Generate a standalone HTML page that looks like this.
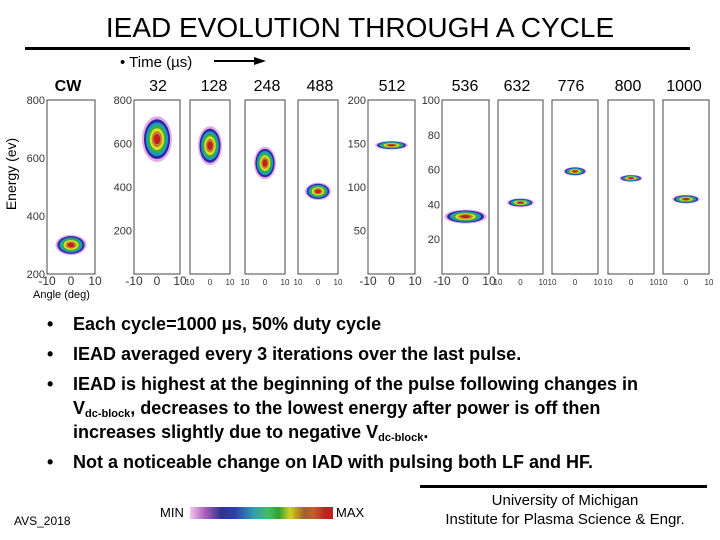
<!DOCTYPE html>
<html><head><meta charset="utf-8">
<style>
body{margin:0;width:720px;height:540px;background:#fff;overflow:hidden;font-family:"Liberation Sans",Arial,sans-serif;}
#wrap{position:relative;width:720px;height:540px;}
.t{position:absolute;white-space:nowrap;}
.b{font-weight:bold;font-size:18px;color:#000;line-height:24px;}
.dot{position:absolute;left:-26px;top:0;}
sub{font-size:11px;line-height:0;vertical-align:-3px;}
</style></head><body>
<div id="wrap">
<div class="t" style="left:0;width:720px;text-align:center;top:12px;font-size:28px;">IEAD EVOLUTION THROUGH A CYCLE</div>
<div class="t" style="left:25px;top:47px;width:665px;height:3px;background:#000;"></div>
<svg id="chart" width="720" height="310" style="position:absolute;left:0;top:0;font-family:'Liberation Sans',Arial,sans-serif;"></svg>
<div class="t b" style="left:73px;top:312px;"><span class="dot">•</span>Each cycle=1000 µs, 50% duty cycle</div>
<div class="t b" style="left:73px;top:342px;"><span class="dot">•</span>IEAD averaged every 3 iterations over the last pulse.</div>
<div class="t b" style="left:73px;top:372px;"><span class="dot">•</span>IEAD is highest at the beginning of the pulse following changes in<br>V<sub>dc-block</sub>, decreases to the lowest energy after power is off then<br>increases slightly due to negative V<sub>dc-block</sub>.</div>
<div class="t b" style="left:73px;top:450px;"><span class="dot">•</span>Not a noticeable change on IAD with pulsing both LF and HF.</div>
<div class="t" style="left:420px;top:485px;width:287px;height:3px;background:#000;"></div>
<div class="t" style="left:420px;top:491px;width:290px;text-align:center;font-size:15px;line-height:19px;">University of Michigan<br>Institute for Plasma Science &amp; Engr.</div>
<div class="t" style="left:14px;top:514px;font-size:12px;">AVS_2018</div>
<div class="t" style="left:160px;top:505px;font-size:13px;">MIN</div>
<div class="t" style="left:336px;top:505px;font-size:13px;">MAX</div>
<div class="t" style="left:190px;top:507px;width:143px;height:12px;background:linear-gradient(90deg,#f0c8f0,#b060c0 10%,#303090 22%,#3040b0 32%,#30a0b0 45%,#40c060 55%,#30a030 62%,#d0d020 70%,#c0a020 74%,#a06030 80%,#c06030 86%,#c02020 95%);"></div>
</div>
<script>
const panelLabels=["CW","32","128","248","488","512","536","632","776","800","1000"];
const centerEnergy=[300,620,590,510,380,148,33,41,59,55,43];
const lowEnergy=[270,530,500,440,350,144,29,39,57,53,41];
const highEnergy=[340,740,680,590,430,154,37,44,62,57,46];
const halfAngle=[6.5,6.5,6,5.5,6.5,7,9,6,5,5,6];
const yMax=[800,800,800,800,800,200,100,100,100,100,100];
const yMin=[200,0,0,0,0,0,0,0,0,0,0];
const yTicks=[[200,400,600,800],[200,400,600,800],[],[],[],[50,100,150,200],[20,40,60,80,100],[],[],[],[]];
// layout
const boxL=[47,134,190,245,298,368,442,498,552,608,663];
const boxR=[95,180,230,285,338,415,489,543,598,654,709];
const boxT=100, boxB=274;
const labelX=[68,158,214,267,320,392,465,517,571,628,684];
const colors=["#e8a8e8","#2828a0","#2098c0","#30b040","#e0e020","#c08030","#c02020"];
const svg=document.getElementById('chart');
const NS="http://www.w3.org/2000/svg";
function mk(tag,attrs){const e=document.createElementNS(NS,tag);for(const k in attrs)e.setAttribute(k,attrs[k]);svg.appendChild(e);return e;}
panelLabels.forEach((lab,i)=>{
  const L=boxL[i],R=boxR[i];
  const xs=a=>L+(a+10)/20*(R-L);
  const ys=v=>boxB-(v-yMin[i])/(yMax[i]-yMin[i])*(boxB-boxT);
  const box=mk('rect',{x:L,y:boxT,width:R-L,height:boxB-boxT,fill:'#fff',stroke:'#444','stroke-width':1});
  
  
  const lt=mk('text',{x:labelX[i],y:91,'text-anchor':'middle','font-size':16,'font-weight':i==0?'bold':'normal'});
  lt.textContent=lab;
  
  
  yTicks[i].forEach(v=>{
    const tt=mk('text',{x:L-2,y:ys(v)+4,'text-anchor':'end','font-size':11,fill:'#333'});
    tt.textContent=v;
    
    
  });
  [-10,0,10].forEach(a=>{
    const small=(i>=2&&i<=4)||i>=7;
    const tx=mk('text',{x:xs(a),y:boxB+11,'text-anchor':'middle','font-size':small?8:12,fill:'#333'});
    tx.textContent=small?Math.abs(a):a;
    
    
  });
  const cx=xs(0), cy=ys(centerEnergy[i]);
  const top=ys(highEnergy[i]), bot=ys(lowEnergy[i]);
  const rw=xs(halfAngle[i])-cx;
  colors.forEach((c,k)=>{
    const s=1-k*0.13;
    const el=mk('ellipse',{cx:cx,cy:cy,rx:Math.max(rw*s,1),ry:Math.max((bot-top)/2*s,1),fill:c});
    
    
  });
});
let t=mk('text',{x:22,y:180,'text-anchor':'middle','font-size':14,transform:'rotate(-90 16 180)'});
t.textContent='Energy (ev)';


t=mk('text',{x:33,y:298,'font-size':11});
t.textContent='Angle (deg)';


t=mk('text',{x:120,y:67,'font-size':15});
t.textContent='•  Time (µs)';


t=mk('line',{x1:214,y1:61,x2:256,y2:61,stroke:'#000','stroke-width':2});


t=mk('polygon',{points:'254,57 266,61 254,65',fill:'#000'});


</script>
</body></html>
